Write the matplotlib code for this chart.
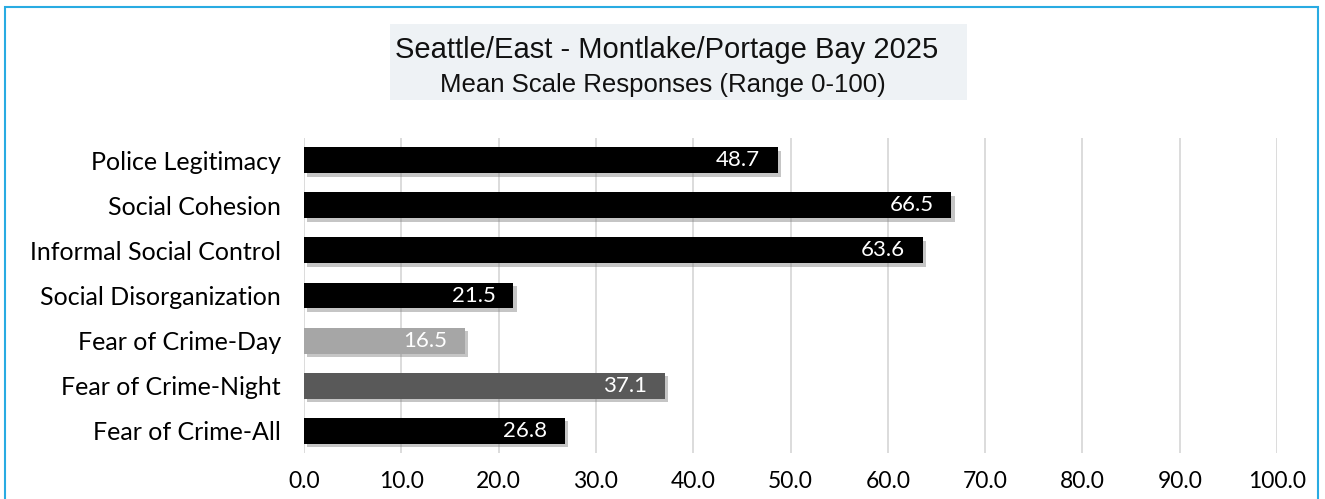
import matplotlib.pyplot as plt
import matplotlib.patheffects as pe
from matplotlib.patches import Rectangle

# Chart data
categories = ['Police Legitimacy', 'Social Cohesion', 'Informal Social Control',
              'Social Disorganization', 'Fear of Crime-Day', 'Fear of Crime-Night',
              'Fear of Crime-All']
values = [48.7, 66.5, 63.6, 21.5, 16.5, 37.1, 26.8]
bar_colors = ['#000000', '#000000', '#000000', '#000000', '#a6a6a6', '#595959', '#000000']
x_ticks = [0, 10, 20, 30, 40, 50, 60, 70, 80, 90, 100]
title_1 = 'Seattle/East - Montlake/Portage Bay 2025'
title_2 = 'Mean Scale Responses (Range 0-100)'

W, H = 1325, 499
fig = plt.figure(figsize=(W / 100, H / 100), dpi=100)

# blue frame around the chart (bottom edge is cropped off)
fig.patches.append(Rectangle((5 / W, -0.1), 1313 / W, 1.1 - 7 / H, transform=fig.transFigure,
                             fill=False, edgecolor='#29abe2', linewidth=1.5))

# title box
fig.patches.append(Rectangle((390 / W, 1 - 100 / H), 577 / W, 76 / H, transform=fig.transFigure,
                             facecolor='#eef2f5', edgecolor='none'))
fig.text(667 / W, 1 - 58 / H, title_1, ha='center', va='baseline', fontsize=21,
         family='Liberation Sans', color='#111111')
fig.text(663 / W, 1 - 92 / H, title_2, ha='center', va='baseline', fontsize=18.5,
         family='Liberation Sans', color='#111111')

ax = fig.add_axes([304 / W, 1 - 453 / H, 973 / W, 315 / H])
y = list(range(len(categories)))
bars = ax.barh(y, values, height=0.575, color=bar_colors, zorder=3,
               path_effects=[pe.SimplePatchShadow(offset=(2.5, -2.5), shadow_rgbFace='#7f7f7f', alpha=0.45),
                             pe.Normal()])

for yi, v in zip(y, values):
    ax.text(v - 1.8, yi, f'{v:.1f}', ha='right', va='center', color='white',
            fontsize=16, family='Lato', zorder=4)

ax.set_xlim(0, 100)
ax.set_ylim(len(categories) - 0.51, -0.49)
ax.set_xticks(x_ticks)
ax.set_xticklabels([f'{t:.1f}' for t in x_ticks], family='Lato', fontsize=16.5)
ax.set_yticks(y)
ax.set_yticklabels(categories, family='Lato', fontsize=18)
ax.tick_params(length=0)
ax.tick_params(axis='x', pad=13)
ax.tick_params(axis='y', pad=16.5)
ax.grid(axis='x', color='#d9d9d9', linewidth=1.3, zorder=0)
for s in ax.spines.values():
    s.set_visible(False)

fig.savefig('out.png', dpi=100)
